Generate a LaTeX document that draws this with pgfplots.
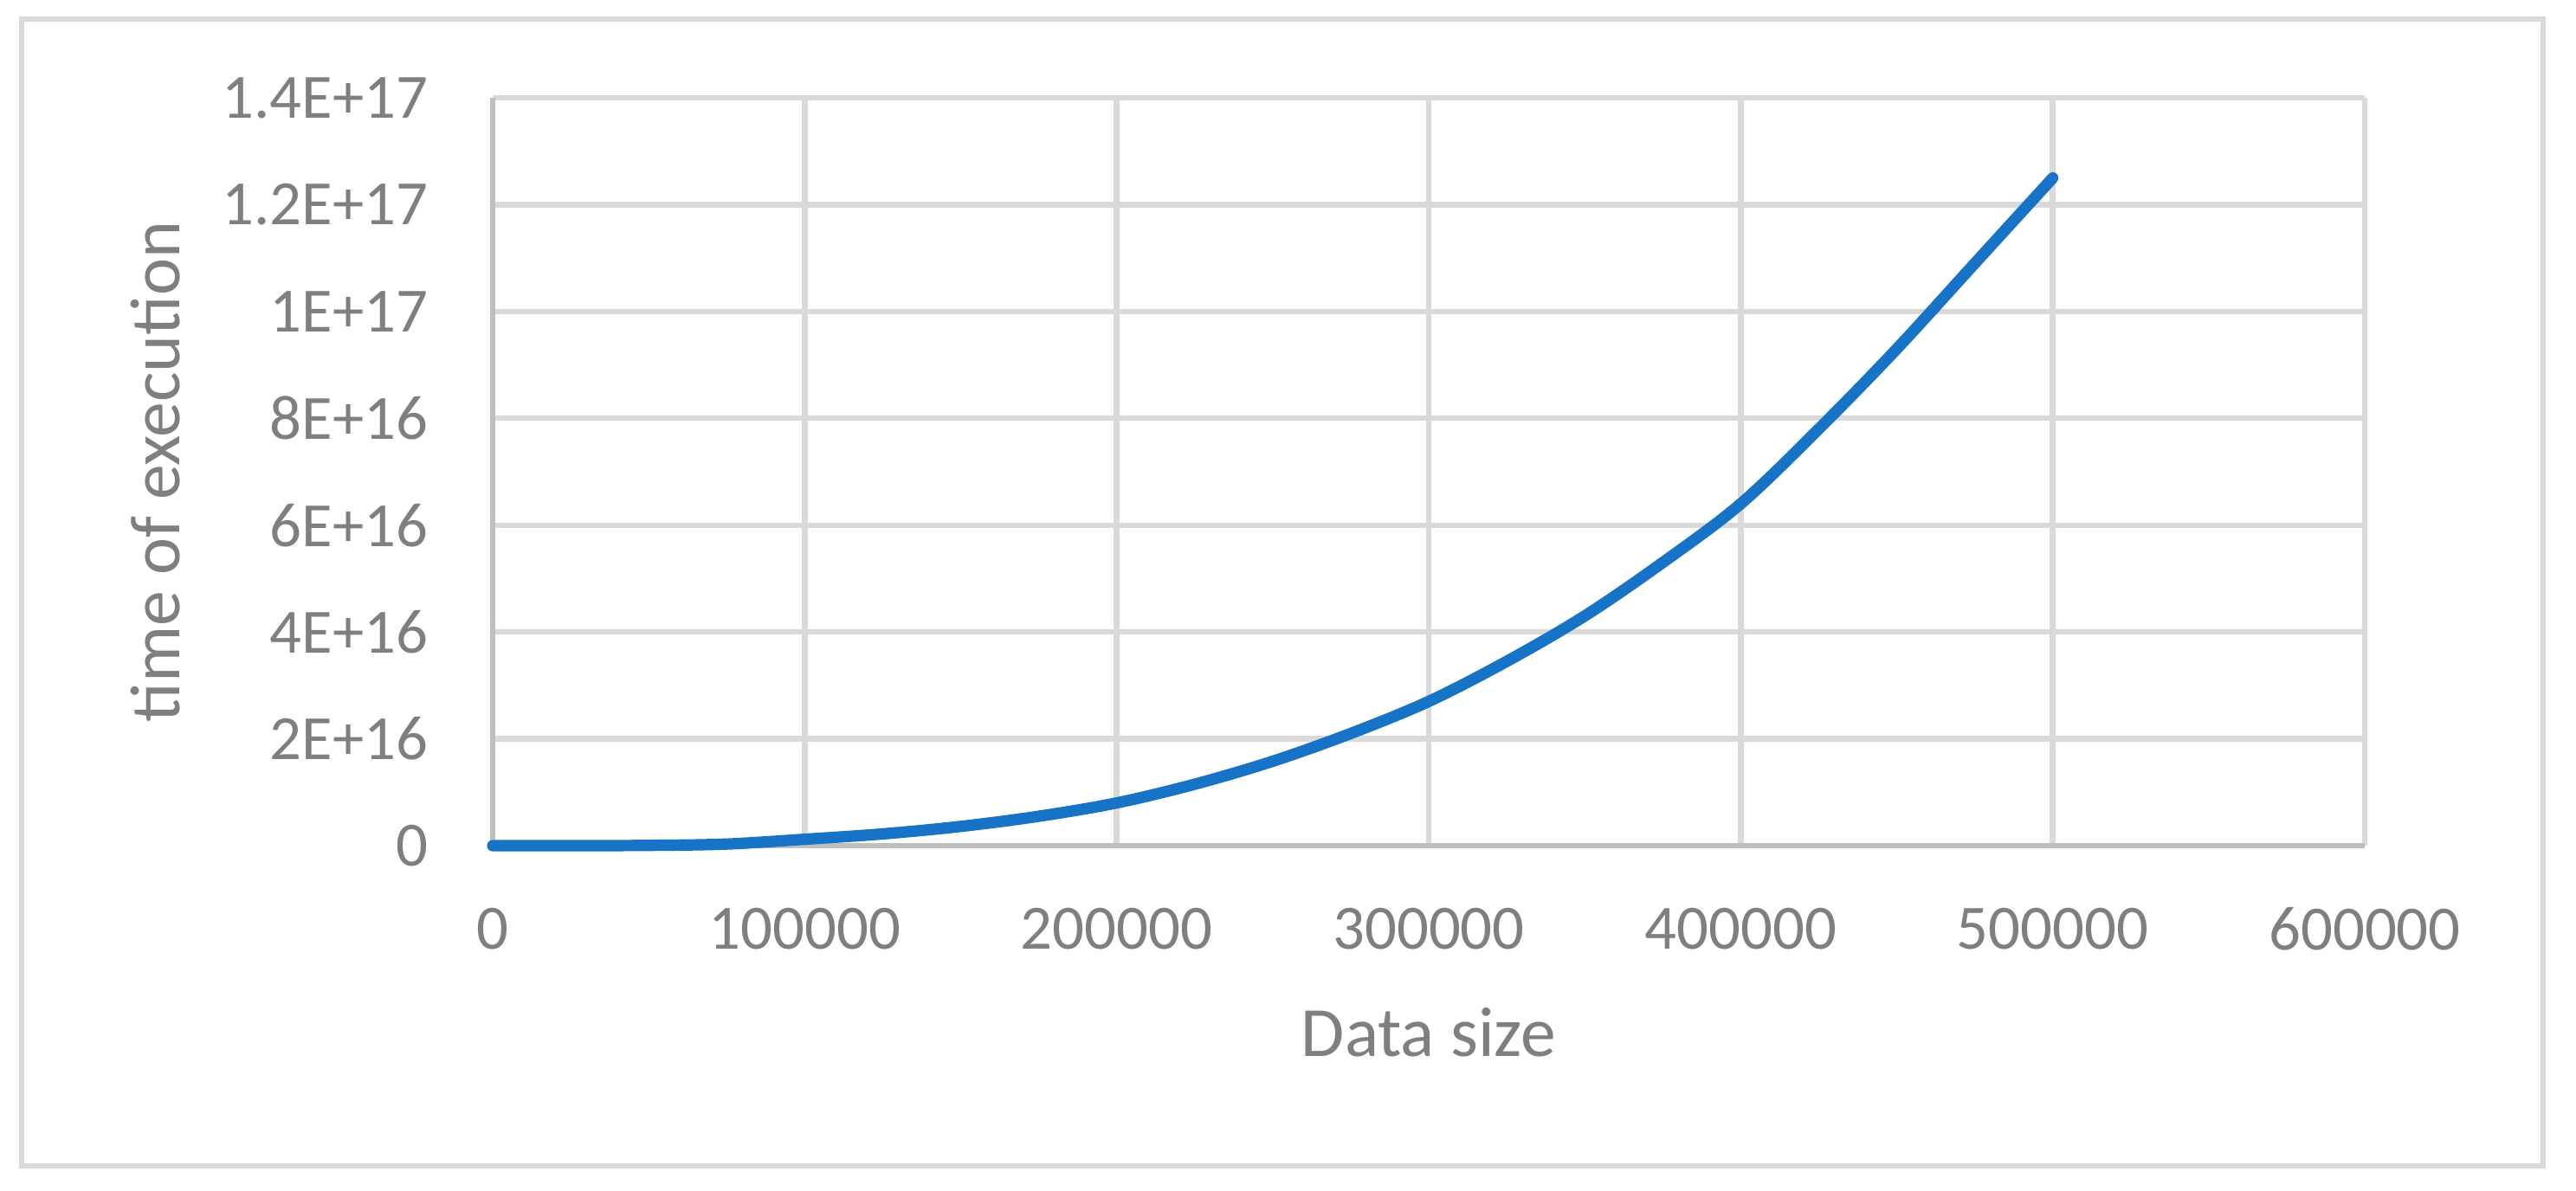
\documentclass[border=0pt]{standalone}
\usepackage{fontspec}
\setmainfont{Carlito}
\usepackage{pgfplots}
\pgfplotsset{compat=1.18}
\definecolor{gridgray}{HTML}{D9D9D9}
\definecolor{axgray}{HTML}{BFBFBF}
\definecolor{txtgray}{HTML}{7F7F7F}
\definecolor{lineblue}{RGB}{23,115,198}
\begin{document}
\begin{tikzpicture}
\path[fill=white] (0,0) rectangle (743.75pt,343.75pt);
\draw[gridgray, line width=1.5pt] (6.125pt,7pt) rectangle (734.25pt,338.25pt);
\begin{axis}[
  at={(142.25pt,99.5pt)}, anchor=south west,
  scale only axis, width=540.5pt, height=216pt,
  xmin=0, xmax=600000, ymin=0, ymax=1.4e17,
  xtick={0,100000,200000,300000,400000,500000,600000},
  xticklabels={0,100000,200000,300000,400000,500000,600000},
  ytick={0,2e16,4e16,6e16,8e16,1e17,1.2e17,1.4e17},
  yticklabels={0,2E+16,4E+16,6E+16,8E+16,1E+17,1.2E+17,1.4E+17},
  scaled ticks=false,
  major tick length=0pt,
  grid=major,
  major grid style={draw=gridgray, line width=1.6pt},
  axis x line*=bottom, axis y line*=left,
  axis line style={-},
  x axis line style={draw=axgray, line width=1.5pt},
  y axis line style={draw=axgray, line width=1.4pt},
  ticklabel style={font=\fontsize{18.2pt}{21pt}\selectfont, text=txtgray, inner sep=0pt},
  xticklabel style={anchor=north, yshift=-17.75pt},
  yticklabel style={anchor=east, xshift=-18.5pt},
  label style={font=\fontsize{20.4pt}{24pt}\selectfont, text=txtgray, inner sep=0pt},
  xlabel={Data size},
  ylabel={time of execution},
  xlabel style={at={(axis description cs:0.5,-0.28125)}, anchor=base},
  ylabel style={at={(axis description cs:-0.16744,0.5)}, anchor=base, rotate=0},
  clip=false,
]
\addplot[lineblue, line width=3.3pt, line cap=round, line join=round, smooth, tension=0.55] table {
x y
0 0
25000 0
50000 0.05e15
75000 0.3e15
100000 1.2e15
125000 2.2e15
150000 3.6e15
175000 5.5e15
200000 8.0e15
225000 1.15e16
250000 1.58e16
275000 2.1e16
300000 2.7e16
325000 3.45e16
350000 4.3e16
375000 5.3e16
400000 6.4e16
425000 7.8e16
450000 9.3e16
475000 1.09e17
500000 1.25e17
};
\end{axis}
\end{tikzpicture}
\end{document}
